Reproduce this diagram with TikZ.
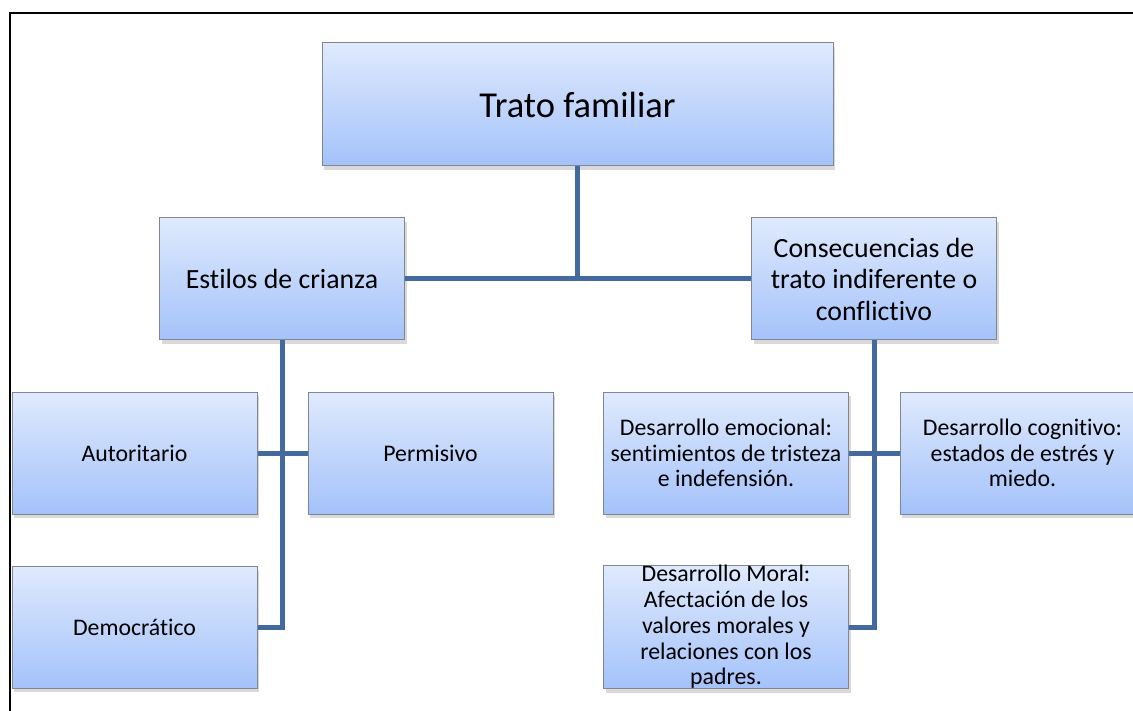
\documentclass[tikz,border=0pt]{standalone}
\usepackage{fontspec}
\setmainfont{Carlito}[Ligatures={NoCommon}]
\usetikzlibrary{shadows}
\definecolor{boxtop}{RGB}{223,234,253}
\definecolor{boxbot}{RGB}{164,194,250}
\definecolor{boxline}{RGB}{128,134,146}
\definecolor{conn}{RGB}{66,106,158}
\begin{document}
\begin{tikzpicture}[x=1pt,y=-1pt]
    \tikzset{
    box/.style={rectangle,minimum width=245pt,minimum height=122pt,inner sep=0pt,
      draw=boxline,line width=1pt,top color=boxtop,bottom color=boxbot,
      drop shadow={shadow xshift=2pt,shadow yshift=-4pt,opacity=0.3},align=center},
    big/.style={box,minimum width=511pt,minimum height=123pt,font=\fontsize{36.5}{43}\selectfont},
    mid/.style={box,font=\fontsize{27.8}{31.5}\selectfont},
    sm/.style={box,font=\fontsize{23.8}{25.7}\selectfont},
    c1/.style={-, draw=conn, line width=5pt},
    }
    \useasboundingbox (0,0) rectangle (1133,711);
    \draw[line width=2pt] (10,711) -- (10,13) -- (1133,13);

    \node[big] (n1) at (577.5,104.5) {Trato familiar};
    \node[mid] (n2) at (282,279) {Estilos de crianza};
    \node[mid] (n3) at (874,279) {Consecuencias de\\trato indiferente o\\conflictivo};
    \node[sm] (n4) at (134.5,453) {Autoritario};
    \node[sm] (n5) at (430.5,453) {Permisivo};
    \node[sm] (n6) at (134.5,627) {Democrático};
    \node[sm] (n7) at (726,453) {Desarrollo emocional:\\sentimientos de tristeza\\e indefensión.};
    \node[sm] (n8) at (1022.5,453) {Desarrollo cognitivo:\\estados de estrés y\\miedo.};
    \node[sm] (n9) at (726,627) {Desarrollo Moral:\\Afectación de los\\valores morales y\\relaciones con los\\padres.};

    \draw[c1] (n1.south) -- (n1.south |- n2.east);
    \draw[c1] (n2.east) -- (n3.west);
    \draw[c1] (n2.south) |- (n6.east);
    \draw[c1] (n4.east) -- (n5.west);
    \draw[c1] (n3.south) |- (n9.east);
    \draw[c1] (n7.east) -- (n8.west);
\end{tikzpicture}
\end{document}
